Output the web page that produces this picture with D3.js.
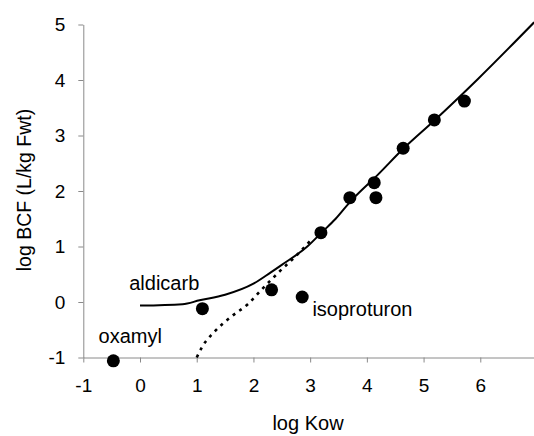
<!DOCTYPE html>
<html>
<head>
<meta charset="utf-8">
<script src="https://cdn.jsdelivr.net/npm/d3@7"></script>
<style>
  body { margin: 0; background: #fff; }
  svg text { font-family: "Liberation Sans", Arial, sans-serif; fill: #000; }
</style>
</head>
<body>
<div id="chart"></div>
<script>
//Width and height
var w = 534;
var h = 436;

//Measured points (log Kow, log BCF)
var pointsKow = [-0.47, 1.1, 2.32, 2.86, 3.19, 3.7, 4.16, 4.13, 4.64, 5.19, 5.72];
var pointsBcf = [-1.06, -0.12, 0.22, 0.09, 1.25, 1.88, 1.88, 2.15, 2.77, 3.28, 3.62];

//Model curve, solid
var solidKow = [0, 0.75, 1.05, 1.5, 2.0, 2.3, 2.5, 2.95, 3.2, 3.45, 3.7, 4.2, 4.65, 5.2, 5.95, 6.95];
var solidBcf = [-0.065, -0.04, 0.03, 0.13, 0.33, 0.53, 0.67, 1.0, 1.25, 1.5, 1.8, 2.3, 2.77, 3.28, 4.01, 5.04];

//Model curve, dotted
var dotKow = [1.0, 1.1, 1.3, 1.6, 1.9, 2.15, 2.45, 2.75, 3.0];
var dotBcf = [-1.0, -0.8, -0.55, -0.27, -0.04, 0.23, 0.54, 0.83, 1.1];

//Tick labels
var xTicks = [-1, 0, 1, 2, 3, 4, 5, 6];
var yTicks = [-1, 0, 1, 2, 3, 4, 5];

//Point labels
var labelNames = ["aldicarb", "oxamyl", "isoproturon"];
var labelKow = [-0.19, -0.73, 3.04];
var labelBcf = [0.21, -0.74, -0.25];

//Scales
var xScale = d3.scaleLinear().domain([-1, 7]).range([83.3, 537]);
var yScale = d3.scaleLinear().domain([-1, 5]).range([357.5, 24.5]);

var svg = d3.select("#chart")
  .append("svg")
  .attr("width", w)
  .attr("height", h);

//Axes
var xAxis = d3.axisBottom(xScale)
  .tickValues(xTicks)
  .tickSize(5)
  .tickSizeOuter(0)
  .tickPadding(16)
  .tickFormat(d3.format("d"));

var yAxis = d3.axisLeft(yScale)
  .tickValues(yTicks)
  .tickSize(5)
  .tickSizeOuter(0)
  .tickPadding(13)
  .tickFormat(d3.format("d"));

svg.append("g")
  .attr("class", "axis x")
  .attr("transform", "translate(0," + yScale(-1) + ")")
  .call(xAxis);

svg.append("g")
  .attr("class", "axis y")
  .attr("transform", "translate(" + xScale(-1) + ",0)")
  .call(yAxis);

svg.selectAll(".axis path, .axis line")
  .attr("stroke", "#8a8a8a")
  .attr("stroke-width", 1);

svg.selectAll(".axis text")
  .attr("font-family", "Liberation Sans, Arial, sans-serif")
  .attr("font-size", 19)
  .attr("fill", "#000")
  .text(function(d){ return d < 0 ? "-" + Math.abs(d) : d; });

//Lines
var solidData = solidKow.map(function(d, i){ return [d, solidBcf[i]]; });
var dotData = dotKow.map(function(d, i){ return [d, dotBcf[i]]; });

var line = d3.line()
  .x(function(d){ return xScale(d[0]); })
  .y(function(d){ return yScale(d[1]); })
  .curve(d3.curveMonotoneX);

svg.append("path")
  .datum(dotData)
  .attr("d", line)
  .attr("fill", "none")
  .attr("stroke", "#000")
  .attr("stroke-width", 2.6)
  .attr("stroke-dasharray", "3,5");

svg.append("path")
  .datum(solidData)
  .attr("d", line)
  .attr("fill", "none")
  .attr("stroke", "#000")
  .attr("stroke-width", 2);

//Points
svg.selectAll("circle.pt")
  .data(pointsKow)
  .enter()
  .append("circle")
  .attr("class", "pt")
  .attr("cx", function(d){ return xScale(d); })
  .attr("cy", function(d, i){ return yScale(pointsBcf[i]); })
  .attr("r", 6.5)
  .attr("fill", "#000");

//Point labels
svg.selectAll("text.lbl")
  .data(labelNames)
  .enter()
  .append("text")
  .attr("class", "lbl")
  .attr("x", function(d, i){ return xScale(labelKow[i]); })
  .attr("y", function(d, i){ return yScale(labelBcf[i]); })
  .attr("font-size", 20)
  .text(function(d){ return d; });

//Axis titles
svg.append("text")
  .attr("x", 308)
  .attr("y", 430)
  .attr("text-anchor", "middle")
  .attr("font-size", 20)
  .text("log Kow");

svg.append("text")
  .attr("transform", "translate(31,190) rotate(-90)")
  .attr("text-anchor", "middle")
  .attr("font-size", 19.5)
  .text("log BCF (L/kg Fwt)");
</script>
</body>
</html>
